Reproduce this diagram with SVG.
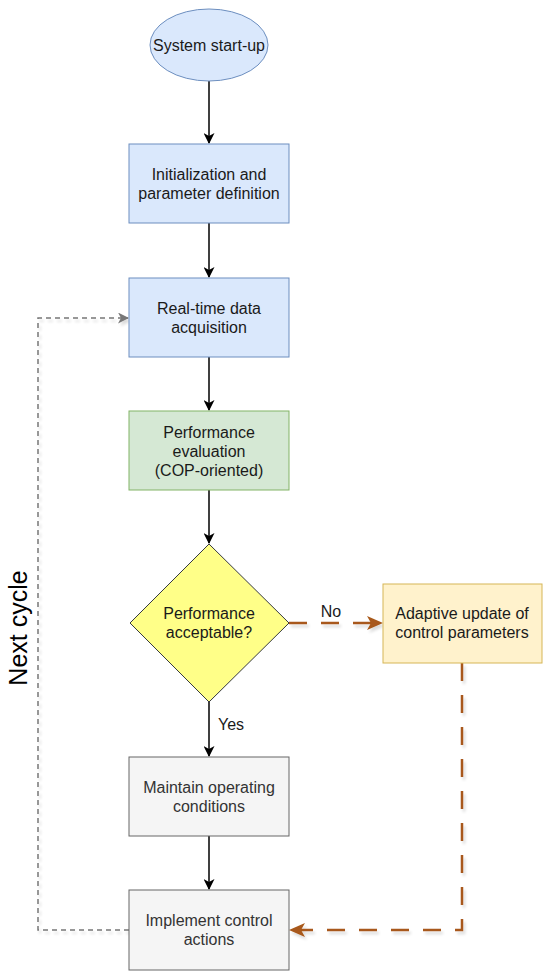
<svg xmlns="http://www.w3.org/2000/svg" width="550" height="979" viewBox="0 0 550 979">
<defs>
<marker id="blk" markerWidth="11" markerHeight="11" refX="10" refY="5.5" orient="auto" markerUnits="userSpaceOnUse"><path d="M0,0 L11,5.5 L0,11 L3,5.5 Z" fill="#000"/></marker>
<marker id="gry" markerWidth="11" markerHeight="11" refX="10" refY="5.5" orient="auto" markerUnits="userSpaceOnUse"><path d="M0,0 L11,5.5 L0,11 L3,5.5 Z" fill="#777"/></marker>
<marker id="org" markerWidth="16" markerHeight="14" refX="15" refY="7" orient="auto" markerUnits="userSpaceOnUse"><path d="M0,0 L16,7 L0,14 L4,7 Z" fill="#a8581a"/></marker>
<filter id="sh" filterUnits="userSpaceOnUse" x="0" y="0" width="550" height="979"><feGaussianBlur in="SourceAlpha" stdDeviation="1.5"/><feOffset dx="2" dy="3"/><feComponentTransfer><feFuncA type="linear" slope="0.15"/></feComponentTransfer><feMerge><feMergeNode/><feMergeNode in="SourceGraphic"/></feMerge></filter>
</defs>
<style>
text{font-family:"Liberation Sans",Arial,sans-serif;font-size:16px;fill:#1a1a1a;text-anchor:middle}
.blue{fill:#dae8fc;stroke:#6c8ebf;stroke-width:1}
.green{fill:#d5e8d4;stroke:#82b366;stroke-width:1}
.yel{fill:#ffff88;stroke:#36393d;stroke-width:1}
.amb{fill:#fff2cc;stroke:#d6b656;stroke-width:1}
.gray{fill:#f5f5f5;stroke:#666;stroke-width:1}
.g{fill:#333}
.arr{fill:none;stroke:#000;stroke-width:1.5;marker-end:url(#blk)}
.loop{fill:none;stroke:#777;stroke-width:1.5;stroke-dasharray:5 4;marker-end:url(#gry)}
.orn{fill:none;stroke:#a8581a;stroke-width:2.5;stroke-dasharray:18 14;marker-end:url(#org)}
</style>
<rect width="550" height="979" fill="#fff"/>
<g id="connectors">
<path class="arr" d="M209,81 V143"/>
<path class="arr" d="M209,223 V277"/>
<path class="arr" d="M209,357 V410"/>
<path class="arr" d="M209,490 V543"/>
<path class="arr" d="M209,702 V756"/>
<path class="arr" d="M209,836 V889"/>
<path class="orn" d="M289,623 H382" filter="url(#sh)"/>
<path class="orn" d="M462,663 V930 H290" filter="url(#sh)"/>
<path class="loop" d="M129,930 H38 V318 H128" filter="url(#sh)"/>
<text x="331" y="617">No</text>
<text x="231" y="730">Yes</text>
<text transform="translate(27,628) rotate(-90)" style="font-size:25px;fill:#000">Next cycle</text>
</g>
<g id="start"><ellipse class="blue" cx="209" cy="45" rx="59" ry="36"/><text x="209" y="51">System start-up</text></g>
<g id="init"><rect class="blue" x="129" y="144" width="160" height="79"/><text x="209" y="180">Initialization and</text><text x="209" y="199">parameter definition</text></g>
<g id="acq"><rect class="blue" x="129" y="278" width="160" height="79"/><text x="209" y="314">Real-time data</text><text x="209" y="333">acquisition</text></g>
<g id="eval"><rect class="green" x="129" y="411" width="160" height="79"/><text x="209" y="438">Performance</text><text x="209" y="457">evaluation</text><text x="209" y="476">(COP-oriented)</text></g>
<g id="decision"><polygon class="yel" points="209,544 289,623 209,702 130,623"/><text x="209" y="619">Performance</text><text x="209" y="638">acceptable?</text></g>
<g id="adapt"><rect class="amb" x="383" y="584" width="159" height="79"/><text x="462" y="619">Adaptive update of</text><text x="462" y="638">control parameters</text></g>
<g id="maintain"><rect class="gray" x="129" y="757" width="160" height="79"/><text class="g" x="209" y="793">Maintain operating</text><text class="g" x="209" y="812">conditions</text></g>
<g id="implement"><rect class="gray" x="129" y="890" width="160" height="80"/><text class="g" x="209" y="926">Implement control</text><text class="g" x="209" y="945">actions</text></g>
</svg>
